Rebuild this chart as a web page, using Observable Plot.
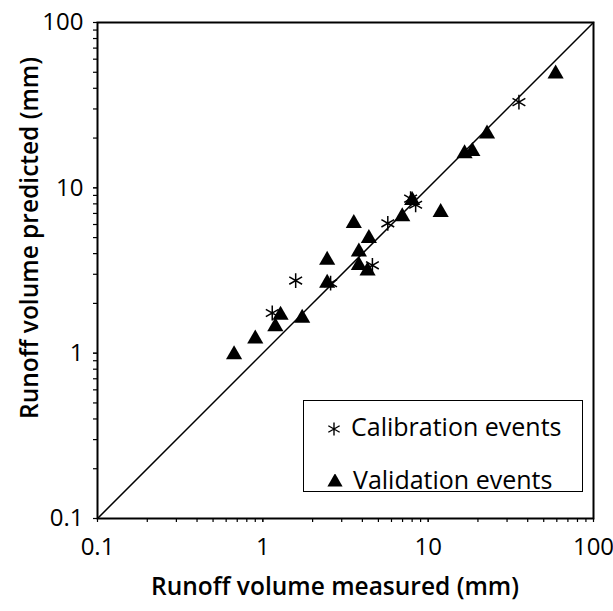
<!DOCTYPE html>
<html>
<head>
<meta charset="utf-8">
<script src="https://cdn.jsdelivr.net/npm/d3@7"></script>
<script src="https://cdn.jsdelivr.net/npm/@observablehq/plot@0.6"></script>
<style>
  html, body { margin: 0; padding: 0; background: #fff; }
  #wrap { position: relative; width: 613px; height: 611px; font-family: "Open Sans", sans-serif; }
  #legend { position: absolute; left: 303px; top: 400px; width: 280px; height: 92px;
    border: 1.5px solid #000; background: #fff; box-sizing: border-box; }
  .row { position: absolute; left: 22px; font-size: 25px; line-height: 30px; color: #000; white-space: nowrap; }
  .row svg { vertical-align: -1px; margin-right: 9px; }
</style>
</head>
<body>
<div id="wrap"></div>
<script>
// Calibration events (stars): measured, predicted (mm)
const calMeasured  = [35.4, 7.83, 8.4, 5.7, 4.6, 2.57, 1.58, 1.14];
const calPredicted = [33,   8.6,  7.9, 6.1, 3.4, 2.65, 2.75, 1.75];
// Validation events (triangles)
const valMeasured  = [59, 22.7, 16.6, 18.5, 11.9, 8.0, 6.97, 3.55, 4.38, 3.81, 2.45, 3.81, 4.3, 2.45, 1.28, 1.19, 1.73, 0.9, 0.67];
const valPredicted = [49, 21.2, 16.1, 16.6, 7.1,  8.4, 6.7,  6.1,  4.95, 4.1,  3.65, 3.4,  3.15, 2.65, 1.7, 1.45, 1.63, 1.22, 0.98];
// 1:1 line ends and axis labels
const oneToOne = [0.1, 100];
const tickLabels = [0.1, 1, 10, 100];
const legendLabels = ["Calibration events", "Validation events"];
const xTitle = "Runoff volume measured (mm)";
const yTitle = "Runoff volume predicted (mm)";

const cal = calMeasured.map((x, i) => ({x, y: calPredicted[i]}));
const val = valMeasured.map((x, i) => ({x, y: valPredicted[i]}));
const line = oneToOne.map(v => ({x: v, y: v}));
const minor = d3.scaleLog().domain([0.1, 100]).ticks();

const chart = Plot.plot({
  width: 613, height: 611,
  marginLeft: 97, marginRight: 20, marginTop: 22, marginBottom: 93,
  style: {fontFamily: "Open Sans, sans-serif", color: "#000", background: "#fff"},
  x: {type: "log", domain: [0.1, 100]},
  y: {type: "log", domain: [0.1, 100]},
  marks: [
    Plot.axisX(minor, {tickSize: 4, tickFormat: () => "", strokeWidth: 1.2, label: null}),
    Plot.axisY(minor, {tickSize: 4, tickFormat: () => "", strokeWidth: 1.2, label: null}),
    Plot.axisX(tickLabels, {tickSize: 4, tickPadding: 15, tickFormat: d => String(d), fontSize: 24, label: null}),
    Plot.axisY(tickLabels, {tickSize: 4, tickPadding: 10, tickFormat: d => String(d), fontSize: 24, label: null}),
    Plot.frame({stroke: "#000", strokeWidth: 2}),
    Plot.line(line, {x: "x", y: "y", stroke: "#000", strokeWidth: 1.5}),
    Plot.dot(val, {x: "x", y: "y", symbol: "triangle", r: 6, fill: "#000", stroke: "none"}),
    Plot.dot(cal, {x: "x", y: "y", symbol: "asterisk", r: 7, stroke: "#000", strokeWidth: 1.5})
  ]
});

const svg = d3.select(chart);
svg.append("text").attr("x", 335).attr("y", 595).attr("text-anchor", "middle")
  .attr("font-size", 24.5).attr("font-weight", 600).attr("fill", "#000").text(xTitle);
svg.append("text").attr("transform", "translate(38,238) rotate(-90)").attr("text-anchor", "middle")
  .attr("font-size", 24.5).attr("font-weight", 600).attr("fill", "#000").text(yTitle);

const wrap = document.getElementById("wrap");
wrap.appendChild(chart);

const legend = document.createElement("div");
legend.id = "legend";
const symStar = `<svg width="16" height="16" viewBox="-8 -8 16 16"><path d="${d3.symbol(d3.symbolAsterisk, 120)()}" stroke="#000" stroke-width="1.4" fill="none"/></svg>`;
const symTri = `<svg width="18" height="16" viewBox="-9 -8 18 16"><path d="${d3.symbol(d3.symbolTriangle, 100)()}" fill="#000"/></svg>`;
legend.innerHTML = `<div class="row" style="top:10px">${symStar}${legendLabels[0]}</div>` +
                   `<div class="row" style="top:63px">${symTri}${legendLabels[1]}</div>`;
wrap.appendChild(legend);
</script>
</body>
</html>
